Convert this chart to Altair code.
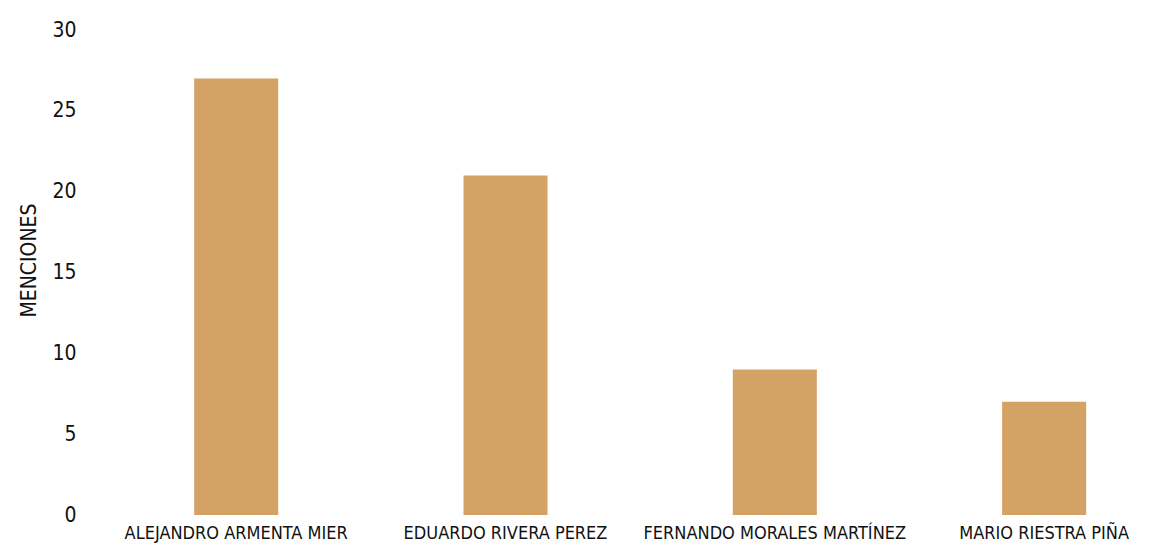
import altair as alt
import pandas as pd

candidatos = ["ALEJANDRO ARMENTA MIER", "EDUARDO RIVERA PEREZ",
              "FERNANDO MORALES MARTÍNEZ", "MARIO RIESTRA PIÑA"]
menciones = [27, 21, 9, 7]

df = pd.DataFrame({"candidato": candidatos, "menciones": menciones})

FONT = "Liberation Sans Narrow, DejaVu Sans Condensed, Arial Narrow, sans-serif"

chart = alt.Chart(df).mark_bar(color="#D5A265").encode(
    x=alt.X("candidato:N", sort=candidatos, title=None,
            scale=alt.Scale(paddingInner=0.688, paddingOuter=0.312, align=0.62),
            axis=alt.Axis(labelAngle=0, labelFont=FONT, labelFontSize=18,
                          labelColor="#111", labelPadding=9, ticks=False,
                          domain=False, labelLimit=400)),
    y=alt.Y("menciones:Q", title="MENCIONES",
            scale=alt.Scale(domain=[0, 30]),
            axis=alt.Axis(values=[0, 5, 10, 15, 20, 25, 30], grid=False,
                          ticks=False, domain=False, labelFont=FONT,
                          labelFontSize=21, labelColor="#111", labelPadding=14,
                          titleFont=FONT, titleFontSize=21, titleFontWeight="normal",
                          titleColor="#111", titlePadding=12, titleY=230)),
).properties(
    width=1060, height=485,
    padding={"left": 82, "top": 22, "right": 0, "bottom": 30},
    autosize=alt.AutoSizeParams(type="none"),
).configure_view(stroke=None)

chart.save("out.html", embed_options={"renderer": "svg", "actions": False})
